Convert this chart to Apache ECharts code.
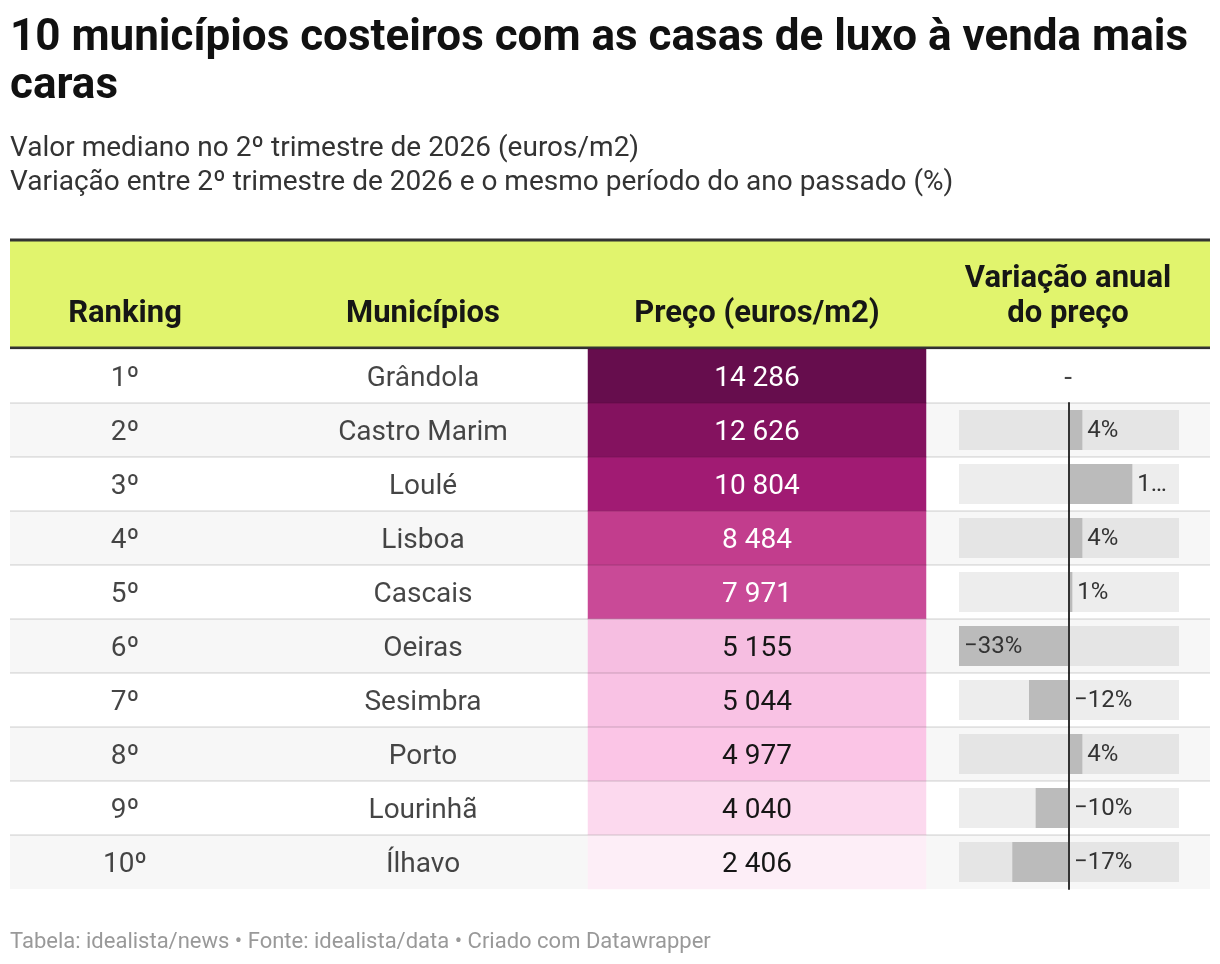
<!DOCTYPE html>
<html>
<head>
<meta charset="utf-8">
<style>
  html, body { margin: 0; padding: 0; background: #fff; }
  #chart { width: 1220px; height: 964px; }
</style>
<script src="https://cdn.jsdelivr.net/npm/echarts@6/dist/echarts.min.js"></script>
</head>
<body>
<div id="chart"></div>
<script>
// Casas de luxo — tabela com preços e variação anual
var ranks = ['1º', '2º', '3º', '4º', '5º', '6º', '7º', '8º', '9º', '10º'];
var municipios = ['Grândola', 'Castro Marim', 'Loulé', 'Lisboa', 'Cascais', 'Oeiras', 'Sesimbra', 'Porto', 'Lourinhã', 'Ílhavo'];
var precos = [14286, 12626, 10804, 8484, 7971, 5155, 5044, 4977, 4040, 2406];
var variacao = [null, 4, 19, 4, 1, -33, -12, 4, -10, -17];
var headers = ['Ranking', 'Municípios', 'Preço (euros/m2)', 'Variação anual\ndo preço'];
var varMin = -33, varMax = 33;

(function () {
  var FONT = 'Roboto';
  var ink = '#161616';
  var chart = echarts.init(document.getElementById('chart'), null, { renderer: 'canvas' });

  function fmt(n) { return String(n).replace(/\B(?=(\d{3})+(?!\d))/g, ' '); }
  function pct(v) { return (v < 0 ? '\u2212' + Math.abs(v) : String(v)) + '%'; }

  var TOP = 349, ROW = 54, N = municipios.length;
  var BAR_LEFT = 959, BAR_W = 220;
  var pxPerUnit = BAR_W / (varMax - varMin);

  var withVar = municipios.filter(function (m, i) { return variacao[i] != null; });

  var headerLabel = {
    show: true, fontFamily: FONT, fontSize: 31, fontWeight: 'bold', color: ink,
    lineHeight: 35, margin: 17, interval: 0
  };
  function headAxis(grid, name) {
    return {
      gridIndex: grid, type: 'category', data: [name], position: 'top',
      axisLine: { show: false }, axisTick: { show: false }, splitLine: { show: false },
      axisLabel: headerLabel
    };
  }
  function rowAxis(grid, data) {
    return {
      gridIndex: grid, type: 'category', data: data, inverse: true,
      axisLine: { show: false }, axisTick: { show: false }, axisLabel: { show: false },
      splitLine: { show: false }
    };
  }
  var cellText = { show: true, position: 'inside', fontFamily: FONT, fontSize: 28, color: ink, offset: [0, 3] };

  var priceData = municipios.map(function (m, i) {
    return { value: [headers[2], m, precos[i]], label: { color: precos[i] > 6000 ? '#ffffff' : ink } };
  });

  var barData = [];
  municipios.forEach(function (m, i) {
    var v = variacao[i];
    if (v == null) return;
    var inside = Math.abs(v) * pxPerUnit > 80;
    var pos = inside ? 'insideLeft' : 'right';
    var room = v > 0 ? (varMax - v) * pxPerUnit - 11 : varMax * pxPerUnit - 11;
    barData.push({ value: [v, m], label: { position: pos, width: room } });
  });

  var missing = [];
  municipios.forEach(function (m, i) { if (variacao[i] == null) missing.push([headers[3], m]); });

  chart.setOption({
    animation: false,
    title: [
      {
        left: 10, top: 15, padding: 0,
        text: '10 municípios costeiros com as casas de luxo à venda mais\ncaras',
        textStyle: { fontFamily: FONT, fontSize: 44, fontWeight: 'bold', color: '#111', lineHeight: 48 }
      },
      {
        left: 10, top: 132, padding: 0,
        text: 'Valor mediano no 2º trimestre de 2026 (euros/m2)\nVariação entre 2º trimestre de 2026 e o mesmo período do ano passado (%)',
        textStyle: { fontFamily: FONT, fontSize: 28, fontWeight: 'normal', color: '#333', lineHeight: 34 }
      },
      {
        left: 10, top: 930, padding: 0,
        text: 'Tabela: idealista/news • Fonte: idealista/data • Criado com Datawrapper',
        textStyle: { fontFamily: FONT, fontSize: 22, fontWeight: 'normal', color: '#999', lineHeight: 24 }
      }
    ],
    graphic: [
      { type: 'rect', silent: true, z: -1, shape: { x: 10, y: 241, width: 1200, height: 106 }, style: { fill: '#e1f46d' } },
      { type: 'line', silent: true, shape: { x1: 10, y1: 240, x2: 1210, y2: 240 }, style: { stroke: '#333', lineWidth: 3 } },
      { type: 'line', silent: true, shape: { x1: 10, y1: 348, x2: 1210, y2: 348 }, style: { stroke: '#333', lineWidth: 3 } }
    ],
    grid: [
      { left: 10, top: TOP, width: 1200, height: ROW * N },
      { left: 10, top: TOP, width: 230, height: ROW * N },
      { left: 258, top: TOP, width: 330, height: ROW * N },
      { left: 588, top: TOP, width: 338, height: ROW * N },
      { left: 926, top: TOP, width: 284, height: ROW * N },
      { left: BAR_LEFT, top: TOP + ROW, width: BAR_W, height: ROW * (N - 1) }
    ],
    xAxis: [
      { gridIndex: 0, type: 'value', show: false },
      headAxis(1, headers[0]),
      headAxis(2, headers[1]),
      headAxis(3, headers[2]),
      headAxis(4, headers[3]),
      { gridIndex: 5, type: 'value', min: varMin, max: varMax, show: false }
    ],
    yAxis: [
      {
        gridIndex: 0, type: 'category', data: municipios, inverse: true,
        axisLine: { show: false }, axisTick: { show: false }, axisLabel: { show: false },
        splitLine: { show: false },
        splitArea: { show: true, areaStyle: { color: ['#ffffff', '#f7f7f7'] } }
      },
      {
        gridIndex: 0, type: 'category', data: municipios, inverse: true, z: 6,
        axisLine: { show: false }, axisTick: { show: false }, axisLabel: { show: false },
        splitLine: { show: true, showMaxLine: false, lineStyle: { color: 'rgba(0,0,0,0.09)', width: 2 } }
      },
      rowAxis(1, municipios),
      rowAxis(2, municipios),
      rowAxis(3, municipios),
      rowAxis(4, municipios),
      {
        gridIndex: 5, type: 'category', data: withVar, inverse: true, z: 5,
        axisLine: { show: true, onZero: true, lineStyle: { color: '#333', width: 2 } },
        axisTick: { show: false }, axisLabel: { show: false }, splitLine: { show: false }
      }
    ],
    visualMap: {
      type: 'piecewise', show: false, seriesIndex: 2, dimension: 2,
      pieces: [
        { gte: 13500, color: '#660d4d' },
        { gte: 11500, lt: 13500, color: '#84125f' },
        { gte: 9500, lt: 11500, color: '#a11b73' },
        { gte: 8200, lt: 9500, color: '#c23d8d' },
        { gte: 6000, lt: 8200, color: '#c94a97' },
        { gte: 5100, lt: 6000, color: '#f6bee1' },
        { gte: 5000, lt: 5100, color: '#f9c2e4' },
        { gte: 4500, lt: 5000, color: '#fbc5e6' },
        { gte: 3000, lt: 4500, color: '#fcd9ee' },
        { lt: 3000, color: '#fdeef7' }
      ]
    },
    series: [
      {
        type: 'scatter', xAxisIndex: 1, yAxisIndex: 2, symbolSize: 0, silent: true,
        data: municipios.map(function (m) { return [headers[0], m]; }),
        label: Object.assign({}, cellText, { formatter: function (p) { return ranks[p.dataIndex]; } })
      },
      {
        type: 'scatter', xAxisIndex: 2, yAxisIndex: 3, symbolSize: 0, silent: true,
        data: municipios.map(function (m) { return [headers[1], m]; }),
        label: Object.assign({}, cellText, { formatter: function (p) { return p.value[1]; } })
      },
      {
        type: 'heatmap', xAxisIndex: 3, yAxisIndex: 4, silent: true,
        data: priceData,
        label: Object.assign({}, cellText, { formatter: function (p) { return fmt(p.value[2]); } })
      },
      {
        type: 'scatter', xAxisIndex: 4, yAxisIndex: 5, symbolSize: 0, silent: true,
        data: missing,
        label: Object.assign({}, cellText, { formatter: '-' })
      },
      {
        type: 'bar', xAxisIndex: 5, yAxisIndex: 6, silent: true,
        encode: { x: 0, y: 1 },
        barWidth: 40,
        data: barData,
        itemStyle: { color: '#bbbbbb' },
        showBackground: true,
        backgroundStyle: { color: 'rgba(0,0,0,0.07)' },
        label: {
          show: true, fontFamily: FONT, fontSize: 24, color: '#333', distance: 5,
          overflow: 'truncate', ellipsis: '…', offset: [0, 1],
          formatter: function (p) { return pct(p.value[0]); }
        }
      }
    ]
  });

  window.addEventListener('resize', function () { chart.resize(); });
})();
</script>
</body>
</html>
